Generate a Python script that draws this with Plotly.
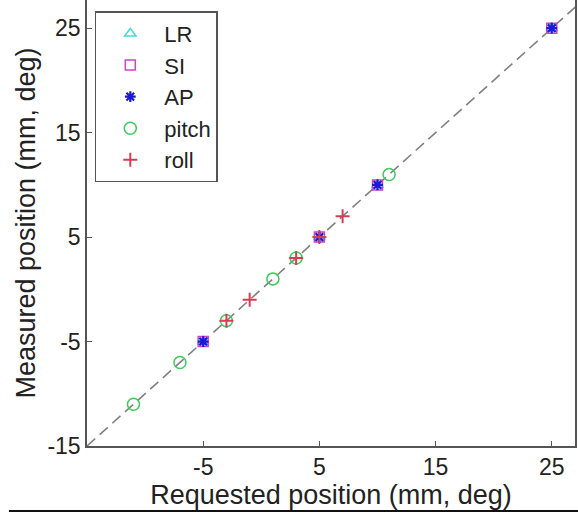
import plotly.graph_objects as go

# ---- data ----
lr_req = [-5, 5, 10, 25]
lr_meas = [-5, 5, 10, 25]
si_req = [-5, 5, 10, 25]
si_meas = [-5, 5, 10, 25]
ap_req = [-5, 5, 10, 25]
ap_meas = [-5, 5, 10, 25]
pitch_req = [-11, -7, -3, 1, 3, 11]
pitch_meas = [-11, -7, -3, 1, 3, 11]
roll_req = [-3, -1, 3, 5, 7]
roll_meas = [-3, -1, 3, 5, 7]
identity = [-15, 27.7]

x_ticks = [-5, 5, 15, 25]
x_tick_text = ["-5", "5", "15", "25"]
y_ticks = [-15, -5, 5, 15, 25]
y_tick_text = ["-15", "-5", "5", "15", "25"]

FONT = "Liberation Sans, Arial, Helvetica, sans-serif"

fig = go.Figure()

fig.add_trace(go.Scatter(x=identity, y=identity, mode="lines",
                         line=dict(color="#808080", width=1.6, dash="11px,6px"),
                         showlegend=False, hoverinfo="skip"))

fig.add_trace(go.Scatter(x=lr_req, y=lr_meas, mode="markers", name="LR",
                         marker=dict(symbol="triangle-up-open", size=10,
                                     color="#3fdcdc", line=dict(width=1.5))))
fig.add_trace(go.Scatter(x=si_req, y=si_meas, mode="markers", name="SI",
                         marker=dict(symbol="square-open", size=10,
                                     color="#cc44cc", line=dict(width=1.5))))
fig.add_trace(go.Scatter(x=ap_req, y=ap_meas, mode="markers", name="AP",
                         marker=dict(symbol="asterisk-open", size=9,
                                     color="#1a1ad8", line=dict(width=2.2, color="#1a1ad8"))))
fig.add_trace(go.Scatter(x=pitch_req, y=pitch_meas, mode="markers", name="pitch",
                         marker=dict(symbol="circle-open", size=12,
                                     color="#3ccc5a", line=dict(width=1.5))))
fig.add_trace(go.Scatter(x=roll_req, y=roll_meas, mode="markers", name="roll",
                         marker=dict(symbol="cross-thin-open", size=10,
                                     color="#d83c50", line=dict(width=2, color="#d83c50"))))

axis_common = dict(showgrid=False, zeroline=False, showline=True, automargin=False,
                   linecolor="#555555", linewidth=1.5,
                   ticks="inside", ticklen=5, tickcolor="#555555",
                   tickfont=dict(family=FONT, size=23, color="#222222"),
                   title_font=dict(family=FONT, size=27, color="#222222"))

fig.update_xaxes(range=[-15, 27], tickvals=x_ticks, ticktext=x_tick_text, mirror=False,
                 title_text="Requested position (mm, deg)", title_standoff=4,
                 **axis_common)
fig.update_yaxes(range=[-15, 27.7], tickvals=y_ticks, ticktext=y_tick_text, mirror=True,
                 title_text="Measured position (mm, deg)", title_standoff=4,
                 **axis_common)

fig.add_shape(type="line", xref="paper", yref="paper",
              x0=-0.16, x1=1.01, y0=-0.146, y1=-0.146,
              line=dict(color="#111111", width=2))

fig.update_layout(
    width=578, height=516,
    margin=dict(l=87, r=3, t=0, b=70),
    plot_bgcolor="white", paper_bgcolor="white",
    legend=dict(x=0.016, y=0.975, xanchor="left", yanchor="top",
                bordercolor="#555555", borderwidth=1.5, bgcolor="white",
                font=dict(family=FONT, size=22, color="#222222"),
                itemwidth=58, tracegroupgap=0),
)

fig.write_html("out.html", config={"displayModeBar": False},
               post_script="document.body.style.margin='0px';document.body.style.overflow='hidden';")
